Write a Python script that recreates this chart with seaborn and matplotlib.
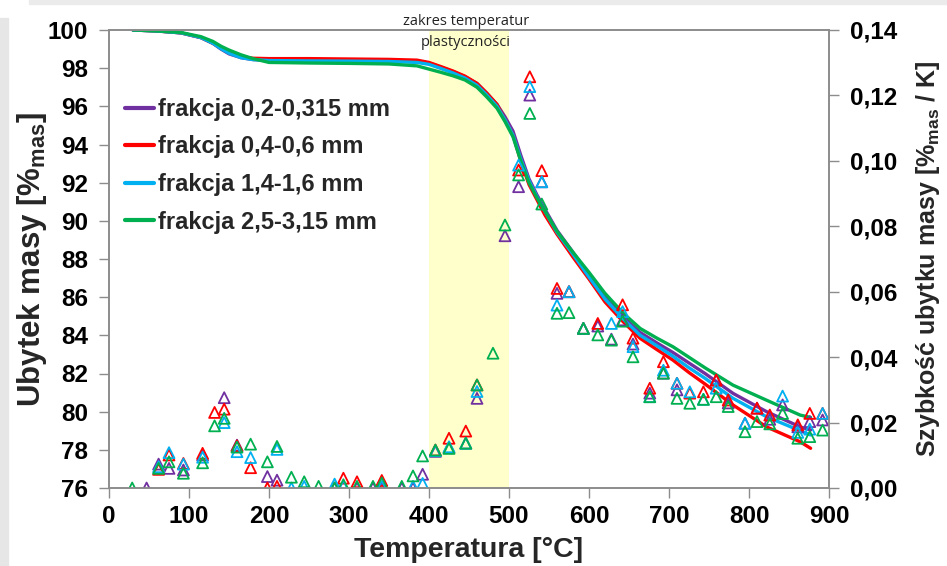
import numpy as np
import pandas as pd
import matplotlib
matplotlib.use("Agg")
import matplotlib.pyplot as plt
import seaborn as sns
from matplotlib.lines import Line2D
from matplotlib.patches import Rectangle

nan = np.nan

series = ["frakcja 0,2-0,315 mm", "frakcja 0,4-0,6 mm",
          "frakcja 1,4-1,6 mm", "frakcja 2,5-3,15 mm"]
colors = ["#7030A0", "#FF0000", "#00B0F0", "#00B050"]

# --- TG curves (left axis, mass %) ---
tg_temp = [30, 60, 90, 115, 130, 140, 150, 165, 180, 200,
           250, 300, 350, 385, 400, 415, 430, 445, 460, 472,
           485, 495, 505, 515, 525, 535, 545, 560, 580, 600,
           620, 643, 664, 685, 705, 725, 745, 780, 822, 864, 877]
tg_purple = [100, 99.95, 99.85, 99.6, 99.3, 99.0, 98.75, 98.55, 98.45, 98.42,
             98.42, 98.42, 98.4, 98.37, 98.27, 98.05, 97.82, 97.55, 97.2, 96.7,
             96.1, 95.45, 94.7, 93.4, 92.2, 91.35, 90.6, 89.5, 88.35, 87.15,
             86.05, 84.95, 84.15, 83.6, 83.1, 82.55, 82.0, 80.96, 80.0, 79.2, 79.04]
tg_red = [100, 99.95, 99.85, 99.6, 99.3, 99.05, 98.8, 98.6, 98.52, 98.5,
          98.5, 98.48, 98.46, 98.42, 98.3, 98.08, 97.85, 97.58, 97.2, 96.7,
          96.1, 95.3, 94.5, 93.1, 91.9, 91.1, 90.3, 89.3, 88.1, 86.95,
          85.75, 84.7, 83.84, 83.25, 82.7, 82.05, 81.45, 80.35, 79.2, 78.42, 78.08]
tg_blue = [100, 99.95, 99.85, 99.6, 99.3, 99.02, 98.78, 98.55, 98.45, 98.4,
           98.38, 98.37, 98.35, 98.3, 98.2, 97.98, 97.75, 97.48, 97.1, 96.6,
           96.0, 95.3, 94.5, 93.2, 92.1, 91.25, 90.5, 89.4, 88.25, 87.05,
           85.9, 84.85, 84.0, 83.45, 82.9, 82.3, 81.75, 80.7, 79.73, 79.0, 78.78]
tg_green = [100, 99.95, 99.87, 99.65, 99.4, 99.15, 98.95, 98.7, 98.5, 98.3,
            98.27, 98.25, 98.22, 98.12, 97.95, 97.78, 97.6, 97.38, 97.0, 96.5,
            95.9, 95.2, 94.4, 93.1, 92.0, 91.2, 90.5, 89.45, 88.35, 87.3,
            86.2, 85.15, 84.36, 83.85, 83.4, 82.85, 82.3, 81.39, 80.6, 79.82, 79.7]

# --- DTG points (right axis, %mas / K) ---
dtg_temp = [29, 47, 62, 75, 93, 117, 132, 144, 160, 177,
            198, 210, 228, 244, 262, 282, 293, 310, 330, 341,
            366, 380, 392, 408, 425, 446, 460, 480, 495, 512,
            526, 541, 560, 575, 593, 611, 628, 642, 655, 676,
            693, 710, 726, 743, 759, 774, 795, 810, 826, 842,
            861, 876, 892]
dtg_purple = [nan, 0.0, 0.0073, 0.006, 0.0055, 0.0101, nan, 0.0276, 0.0131, nan,
              0.0035, 0.0024, nan, nan, nan, 0.0, nan, 0.0, 0.0, 0.0,
              0.0, 0.0, 0.0042, 0.0112, 0.0124, 0.0137, 0.0274, nan, 0.0771, 0.0921,
              0.1201, 0.0936, 0.0595, 0.060, 0.0488, 0.0495, 0.0455, 0.0514, 0.044, 0.029,
              0.0351, 0.030, nan, nan, 0.033, 0.026, 0.0198, 0.0244, 0.021, 0.0254,
              0.0187, 0.0203, 0.0208]
dtg_red = [nan, nan, 0.0057, 0.0101, 0.0075, 0.0106, 0.0231, 0.0241, 0.0129, 0.0062,
           0.0, 0.0005, nan, nan, nan, nan, 0.003, 0.0019, nan, 0.0023,
           nan, nan, nan, 0.0116, 0.0152, 0.0174, 0.0315, nan, nan, 0.0972,
           0.1257, 0.097, 0.061, 0.060, 0.0488, 0.0503, nan, 0.056, 0.0458, 0.0305,
           0.0386, 0.032, 0.029, 0.0294, 0.033, 0.0269, nan, 0.0244, 0.0223, nan,
           0.0193, 0.0228, 0.0228]
dtg_blue = [nan, nan, 0.0065, 0.0108, 0.0073, 0.0094, nan, 0.020, 0.0111, 0.0093,
            nan, 0.0118, 0.0, 0.0005, nan, 0.0012, 0.0005, nan, nan, 0.0005,
            nan, 0.0005, 0.0014, 0.0114, 0.0126, 0.0137, 0.0295, nan, nan, 0.0987,
            0.1227, 0.0936, 0.0559, 0.060, 0.0488, nan, 0.0503, 0.0539, 0.0432, 0.0279,
            0.036, 0.032, 0.0294, 0.0271, 0.0305, nan, 0.0198, nan, nan, 0.0281,
            0.017, 0.018, 0.0228]
dtg_green = [0.0, nan, 0.006, 0.008, 0.0045, 0.0077, 0.019, 0.0213, 0.0125, 0.0134,
             0.008, 0.0127, 0.0033, 0.0019, 0.0005, 0.0, 0.001, 0.0005, 0.0005, 0.0015,
             0.0005, 0.0037, 0.0098, 0.0116, 0.0121, 0.0137, 0.0315, 0.0412, 0.0804, 0.0957,
             0.1145, 0.0868, 0.0534, 0.0536, 0.0488, 0.0468, 0.0452, 0.051, 0.0401, 0.0279,
             0.0351, 0.0274, 0.0259, 0.0271, 0.0279, 0.0249, 0.0172, 0.0203, 0.0196, 0.0228,
             0.0152, 0.0157, 0.0177]

left_ticks = list(range(76, 101, 2))
right_ticks = [0.00, 0.02, 0.04, 0.06, 0.08, 0.10, 0.12, 0.14]
right_ticklabels = ["0,00", "0,02", "0,04", "0,06", "0,08", "0,10", "0,12", "0,14"]
x_ticks = list(range(0, 901, 100))

tg_vals = [tg_purple, tg_red, tg_blue, tg_green]
dtg_vals = [dtg_purple, dtg_red, dtg_blue, dtg_green]

tg_df = pd.concat([pd.DataFrame({"T": tg_temp, "v": v, "series": s})
                   for s, v in zip(series, tg_vals)], ignore_index=True)

sns.set_theme(style="white")
plt.rcParams["font.family"] = ["Liberation Sans", "DejaVu Sans"]
plt.rcParams["font.weight"] = "bold"
plt.rcParams["mathtext.fontset"] = "custom"
plt.rcParams["mathtext.rm"] = "Liberation Sans:bold"
plt.rcParams["mathtext.it"] = "Liberation Sans:bold"
plt.rcParams["mathtext.bf"] = "Liberation Sans:bold"

fig = plt.figure(figsize=(9.47, 5.66), dpi=100)
fig.patches.append(Rectangle((29 / 947, 1 - 4 / 566), 1, 4 / 566,
                             transform=fig.transFigure, color="#ebebeb", zorder=-5))
fig.patches.append(Rectangle((0, 0), 8 / 947, 1 - 18 / 566,
                             transform=fig.transFigure, color="#e6e6e6", zorder=-5))

ax = fig.add_axes([109 / 947, 1 - 488 / 566, 720 / 947, 458 / 566])
ax2 = ax.twinx()

ax.axvspan(400, 500, color="#FFFFCC", zorder=0, lw=0)
sns.lineplot(data=tg_df, x="T", y="v", hue="series", hue_order=series,
             palette=colors, lw=2.4, ax=ax, legend=False, sort=False)

for s, c, v in zip(series, colors, dtg_vals):
    sns.scatterplot(x=dtg_temp, y=v, ax=ax2, marker="^", s=62, color=c,
                    facecolor="none", edgecolor=c, linewidth=1.3, legend=False)

ax.set_xlim(0, 900)
ax.set_ylim(76, 100)
ax2.set_ylim(0, 0.14)
ax.set_xticks(x_ticks)
ax.set_yticks(left_ticks)
ax2.set_yticks(right_ticks)
ax2.set_yticklabels(right_ticklabels)

spine_c = "#8c8c8c"
for a in (ax, ax2):
    for sp in a.spines.values():
        sp.set_color(spine_c)
        sp.set_linewidth(1.2)
    a.tick_params(direction="out", length=7, width=1, color=spine_c,
                  labelsize=17.5, pad=4, labelcolor="black")
ax.tick_params(axis="x", bottom=True, pad=5)
ax.tick_params(axis="y", left=True, pad=8)
ax2.tick_params(axis="y", right=True, pad=8)
ax.grid(False)
ax2.grid(False)

ax.set_xlabel("Temperatura [°C]", fontsize=20.5, fontweight="bold", labelpad=7)
ax.set_ylabel(r"Ubytek masy [%$_{\mathrm{mas}}$]", fontsize=22.5, fontweight="bold", labelpad=-1)
ax2.set_ylabel(r"Szybkość ubytku masy [%$_{\mathrm{mas}}$ / K]", fontsize=18,
               fontweight="bold", labelpad=12)

handles = [Line2D([0], [0], color=c, lw=3) for c in colors]
ax.legend(handles, series, loc="upper left", bbox_to_anchor=(0.022, 0.852),
          frameon=False, handlelength=1.25, handletextpad=0.15, labelspacing=0.62,
          borderpad=0, borderaxespad=0, prop={"size": 17, "weight": "bold"})

ax.text(446, 99.9, "zakres temperatur\nplastyczności", ha="center", va="center",
        fontsize=10.5, fontweight="normal", family=["Open Sans", "DejaVu Sans"],
        linespacing=1.6, color="#222222", clip_on=False, zorder=5)

fig.savefig("out.png", dpi=100)
